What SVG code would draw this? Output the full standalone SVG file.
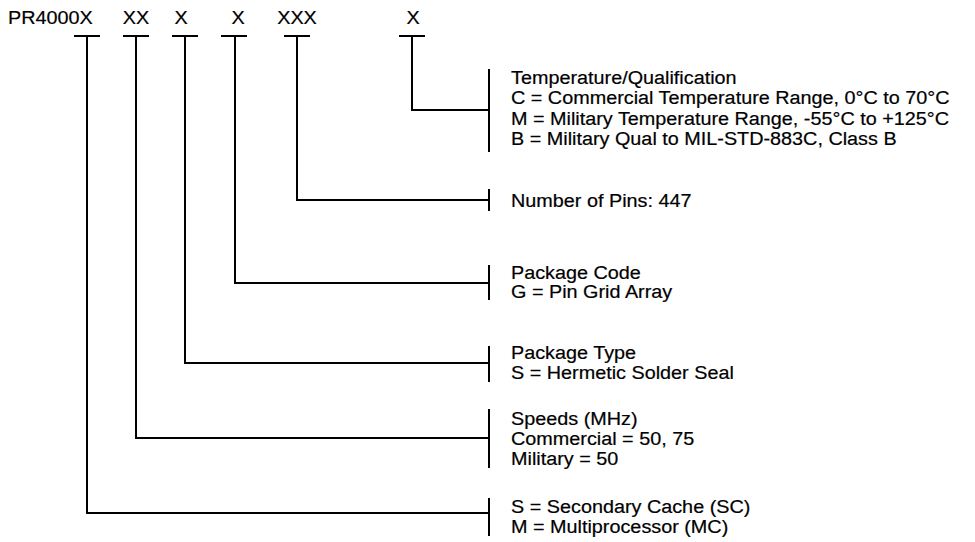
<svg xmlns="http://www.w3.org/2000/svg" width="975" height="542" viewBox="0 0 975 542">
<style>
text{font-family:"Liberation Sans",Arial,sans-serif;font-size:18.6px;fill:#000;stroke:#000;stroke-width:0.2}
.m{text-anchor:middle}
.ln{stroke:#000;stroke-width:2;fill:none}
</style>
<rect width="975" height="542" fill="#fff"/>
<g id="code">
<g id="seg-base"><text transform="translate(8,24) scale(1.065,1)">PR4000X</text><line class="ln" x1="74" y1="36" x2="100" y2="36"/></g>
<g id="seg-speed"><text class="m" transform="translate(136,24) scale(1.065,1)">XX</text><line class="ln" x1="123" y1="36" x2="149" y2="36"/></g>
<g id="seg-ptype"><text class="m" transform="translate(181,24) scale(1.065,1)">X</text><line class="ln" x1="172" y1="36" x2="198" y2="36"/></g>
<g id="seg-pcode"><text class="m" transform="translate(238,24) scale(1.065,1)">X</text><line class="ln" x1="221" y1="36" x2="247" y2="36"/></g>
<g id="seg-pins"><text class="m" transform="translate(297,24) scale(1.065,1)">XXX</text><line class="ln" x1="284" y1="36" x2="310" y2="36"/></g>
<g id="seg-temp"><text class="m" transform="translate(413,24) scale(1.065,1)">X</text><line class="ln" x1="399" y1="36" x2="425" y2="36"/></g>
</g>
<g id="connectors">
<polyline class="ln" points="412,36 412,110 489,110"/>
<polyline class="ln" points="297,36 297,200 489,200"/>
<polyline class="ln" points="235,36 235,283 489,283"/>
<polyline class="ln" points="185,36 185,363 489,363"/>
<polyline class="ln" points="136,36 136,438 489,438"/>
<polyline class="ln" points="87,36 87,513 489,513"/>
</g>
<g id="desc-temp"><line class="ln" x1="489" y1="69" x2="489" y2="152"/>
<g transform="translate(511,0) scale(1.065,1)">
<text y="84">Temperature/Qualification</text>
<text y="104">C = Commercial Temperature Range, 0°C to 70°C</text>
<text y="125">M = Military Temperature Range, -55°C to +125°C</text>
<text y="145">B = Military Qual to MIL-STD-883C, Class B</text></g></g>
<g id="desc-pins"><line class="ln" x1="489" y1="189" x2="489" y2="211"/>
<g transform="translate(511,0) scale(1.065,1)"><text y="207">Number of Pins: 447</text></g></g>
<g id="desc-pcode"><line class="ln" x1="489" y1="265" x2="489" y2="300"/>
<g transform="translate(511,0) scale(1.065,1)"><text y="279">Package Code</text>
<text y="298">G = Pin Grid Array</text></g></g>
<g id="desc-ptype"><line class="ln" x1="489" y1="346" x2="489" y2="382"/>
<g transform="translate(511,0) scale(1.065,1)"><text y="359">Package Type</text>
<text y="379">S = Hermetic Solder Seal</text></g></g>
<g id="desc-speed"><line class="ln" x1="489" y1="409" x2="489" y2="468"/>
<g transform="translate(511,0) scale(1.065,1)"><text y="425">Speeds (MHz)</text>
<text y="445">Commercial = 50, 75</text>
<text y="465">Military = 50</text></g></g>
<g id="desc-cache"><line class="ln" x1="489" y1="498" x2="489" y2="536"/>
<g transform="translate(511,0) scale(1.065,1)"><text y="513">S = Secondary Cache (SC)</text>
<text y="533">M = Multiprocessor (MC)</text></g></g>
</svg>
